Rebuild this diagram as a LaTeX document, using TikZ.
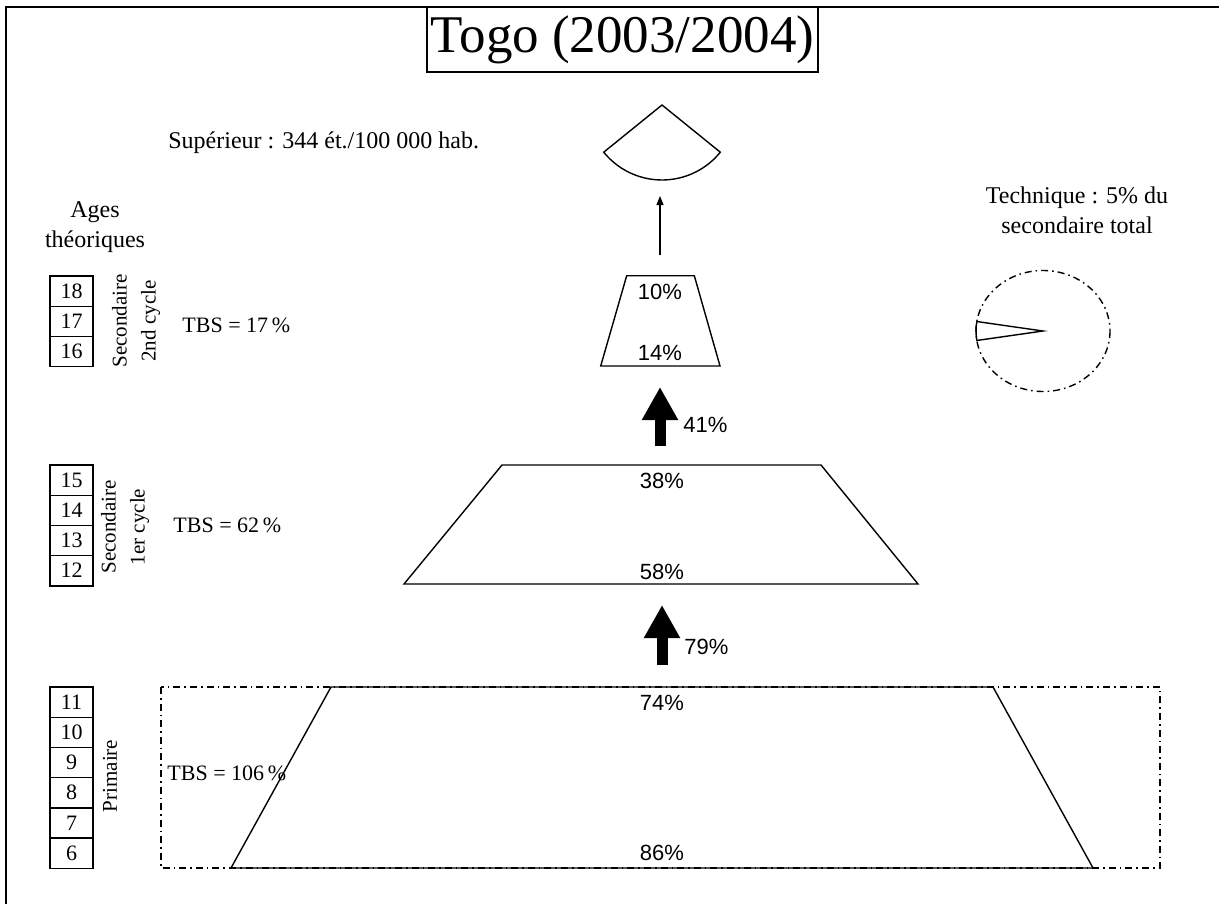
\documentclass[tikz,border=0pt]{standalone}
\usepackage{fontspec}
\setmainfont{Liberation Serif}
\setsansfont{Liberation Sans}
\usetikzlibrary{arrows.meta}

\begin{document}
\begin{tikzpicture}[x=0.5pt, y=-0.5pt,
  agebox/.style={draw, line width=0.7pt, minimum width=21.5pt, minimum height=15.1pt, inner sep=0pt, font=\fontsize{11}{13}\selectfont},
  levellabel/.style={rotate=90, align=center, inner sep=0pt, font=\fontsize{10.5}{14.5}\selectfont},
  tbs/.style={anchor=west, inner sep=0pt, font=\fontsize{11}{13}\selectfont},
  pct/.style={inner sep=0pt, font=\sffamily\fontsize{11}{13}\selectfont},
  trap/.style={line width=0.7pt, line join=miter},
  dashdot/.style={line width=0.7pt, dash pattern=on 3.5pt off 2pt on 0.8pt off 2pt},
  bigarrow/.style={line width=5.5pt, -{Triangle[width=17pt,length=16.5pt]}}]

  \useasboundingbox (0,0) rectangle (1219,904);
  % Frame and title
  \draw[line width=1pt] (6,904) -- (6,7) -- (1219,7);
  \node[draw, fill=white, line width=0.8pt, minimum width=195.5pt, minimum height=32.5pt, inner sep=0pt,
    font=\fontsize{26.5}{30}\selectfont] (title) at (622.5,39.5) {Togo (2003/2004)};

  % Theoretical ages
  \node[align=center, font=\fontsize{12}{15}\selectfont] (ages) at (95,227) {Ages\\théoriques};
  \foreach \a [count=\i] in {18,17,16}
    \node[agebox] (age\a) at (71.5,{276+30.2*(\i-0.5)}) {\a};
  \foreach \a [count=\i] in {15,14,13,12}
    \node[agebox] (age\a) at (71.5,{465+30.2*(\i-0.5)}) {\a};
  \foreach \a [count=\i] in {11,10,9,8,7,6}
    \node[agebox] (age\a) at (71.5,{687+30.2*(\i-0.5)}) {\a};

  % Level names
  \node[levellabel] (sec2) at (136,321) {Secondaire\\2nd cycle};
  \node[levellabel] (sec1) at (125,527) {Secondaire\\1er cycle};
  \node[levellabel] (prim) at (110,776) {Primaire};
  \node[tbs] (tbs2) at (182,325) {TBS = 17\,\%};
  \node[tbs] (tbs1) at (173,525) {TBS = 62\,\%};
  \node[tbs] (tbs0) at (167,773) {TBS = 106\,\%};

  % Tertiary
  \node[anchor=west, inner sep=0pt, font=\fontsize{12}{14}\selectfont] (sup) at (168,143) {Supérieur : 344 ét./100 000 hab.};
  \coordinate (apex) at (662,105);
  \draw[trap] (apex) -- ++(141:75) arc[start angle=141, end angle=39, radius=75] -- cycle;
  \coordinate (thins) at (660,255);
  \coordinate (thine) at (660,196);
  \draw[line width=0.6pt, -{Triangle[width=3.5pt,length=4.5pt]}] (thins) -- (thine);

  % Secondary 2nd cycle
  \draw[trap] (626.7,275.7) -- (694.3,275.7) -- (720,366) -- (600.7,366) -- cycle;
  \node[pct] (p10) at (660,292) {10\%};
  \node[pct] (p14) at (660,353) {14\%};
  \coordinate (a1s) at (660,446);
  \coordinate (a1e) at (660,387);
  \draw[bigarrow] (a1s) -- (a1e);
  \node[pct, anchor=west] (p41) at (683,425) {41\%};

  % Secondary 1st cycle
  \draw[trap] (502,465) -- (821,465) -- (918,584) -- (404,584) -- cycle;
  \node[pct] (p38) at (662,481) {38\%};
  \node[pct] (p58) at (662,572) {58\%};
  \coordinate (a2s) at (662,665);
  \coordinate (a2e) at (662,605);
  \draw[bigarrow] (a2s) -- (a2e);
  \node[pct, anchor=west] (p79) at (684,647) {79\%};

  % Primary
  \draw[dashdot] (161,687) rectangle (1160,868);
  \draw[trap] (331,687) -- (993,687) -- (1093,868) -- (231,868) -- cycle;
  \node[pct] (p74) at (662,703) {74\%};
  \node[pct] (p86) at (662,853) {86\%};

  % Technical share
  \node[align=center, font=\fontsize{12}{15}\selectfont] (tech) at (1077,210) {Technique : 5\% du\\secondaire total};
  \coordinate (pie) at (1043,331);
  \draw[dashdot] (pie) ellipse [x radius=67, y radius=60.5];
  \draw[trap] (pie) -- ++(171:67 and 60.5) arc[start angle=171, end angle=189, x radius=67, y radius=60.5] -- cycle;
\end{tikzpicture}
\end{document}
